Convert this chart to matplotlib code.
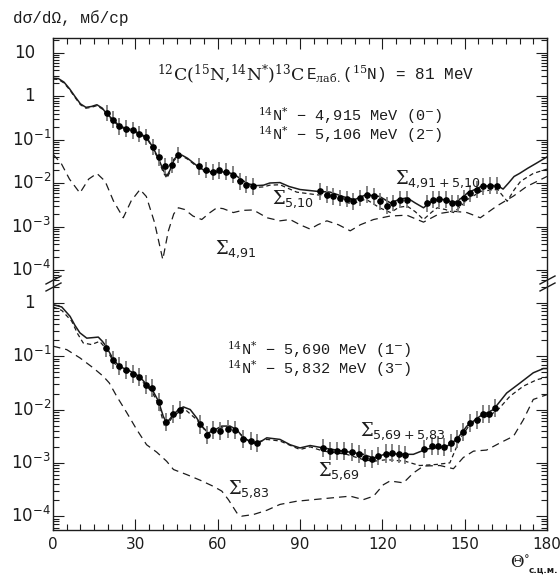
import numpy as np
import matplotlib
matplotlib.use("Agg")
import matplotlib.pyplot as plt
from matplotlib.ticker import LogLocator, MultipleLocator, NullFormatter
from matplotlib.lines import Line2D
from matplotlib.transforms import blended_transform_factory

plt.rcParams["mathtext.fontset"] = "dejavuserif"
plt.rcParams["font.family"] = ["DejaVu Sans"]

# values in decades (log10 of mb/sr)

# upper panel: 14N* 4.915 + 5.106 MeV
UP_SUM_THETA = [0, 2, 4, 6, 8, 10, 12, 14, 16, 18, 19.3, 22, 24.4, 27.5, 29.3, 31.7,
                34, 36.3, 38.4, 40.2, 41.5, 42.6, 44, 45.5, 47, 49, 52.4, 54.8, 57.2,
                61, 64, 66.3, 68.8, 71.2, 74.2, 76.7, 79, 82.7, 86, 90, 96, 101, 107,
                110, 114, 119, 123, 126, 129, 132, 135, 138, 140, 143, 146, 149, 151,
                156, 160, 162, 164, 166, 168, 170, 173, 176, 180]
UP_SUM_LG = [0.42, 0.41, 0.33, 0.18, 0.0, -0.17, -0.25, -0.23, -0.19, -0.27, -0.38,
             -0.54, -0.69, -0.74, -0.78, -0.86, -0.93, -1.16, -1.42, -1.70, -1.83,
             -1.70, -1.45, -1.36, -1.35, -1.42, -1.59, -1.69, -1.73, -1.73, -1.75,
             -1.80, -1.92, -2.01, -2.05, -2.04, -1.99, -1.98, -2.07, -2.14, -2.18,
             -2.20, -2.33, -2.37, -2.26, -2.30, -2.45, -2.37, -2.33, -2.45, -2.56,
             -2.41, -2.37, -2.37, -2.45, -2.33, -2.22, -2.07, -2.05, -2.05, -2.13,
             -1.99, -1.84, -1.77, -1.65, -1.54, -1.39]

UP_510_THETA = [0, 2, 4, 6, 8, 10, 12, 14, 16, 18, 19.3, 22, 24.4, 27.5, 29.3, 31.7,
                34, 36.3, 38.4, 40.2, 41.5, 42.6, 44, 45.5, 47, 49, 52.4, 54.8, 57.2,
                61, 64, 66.3, 68.8, 71.2, 74.2, 76.7, 79, 82.7, 88.8, 96, 101, 107,
                110, 114, 119, 123, 126, 129, 132, 135, 138, 140, 143, 146, 149, 151,
                156, 160, 162, 165.5, 168, 170.4, 175, 180]
UP_510_LG = [0.40, 0.39, 0.31, 0.16, -0.02, -0.19, -0.27, -0.25, -0.21, -0.29, -0.40,
             -0.56, -0.71, -0.76, -0.80, -0.88, -0.95, -1.18, -1.45, -1.75, -1.88,
             -1.74, -1.48, -1.38, -1.37, -1.44, -1.61, -1.71, -1.76, -1.76, -1.78,
             -1.83, -1.95, -2.05, -2.09, -2.08, -2.04, -2.03, -2.20, -2.26, -2.30,
             -2.45, -2.45, -2.36, -2.56, -2.67, -2.55, -2.52, -2.65, -2.83, -2.66,
             -2.56, -2.60, -2.67, -2.50, -2.37, -2.18, -2.15, -2.14, -2.41, -2.15,
             -1.95, -1.77, -1.67]

UP_491_THETA = [0, 3, 6, 9.8, 13, 16, 19, 22, 25.6, 28.5, 31.7, 34, 37, 40, 42, 44,
                45.7, 48, 51, 54.2, 57, 59.7, 62, 65.7, 69, 73, 78, 82.7, 86.4, 90,
                93.7, 96.5, 99.8, 104, 108.3, 112, 116.8, 122.8, 128.9, 135, 141, 146,
                150.8, 155.7, 161.7, 167.8, 172.6, 180]
UP_491_LG = [-1.33, -1.54, -1.90, -2.22, -1.90, -1.77, -1.95, -2.40, -2.79, -2.40,
             -2.14, -2.30, -2.90, -3.75, -3.10, -2.70, -2.56, -2.60, -2.75, -2.83,
             -2.68, -2.56, -2.58, -2.67, -2.62, -2.61, -2.79, -2.86, -2.83, -2.95,
             -3.05, -2.95, -2.86, -2.95, -3.09, -2.95, -2.83, -2.75, -2.73, -2.89,
             -2.69, -2.64, -2.67, -2.79, -2.52, -2.29, -2.07, -1.84]

UP_DATA_THETA = [19.5, 21.7, 24.1, 26.5, 29.0, 31.5, 34.0, 36.3, 38.5, 40.9, 43.2,
                 45.7, 53.3, 55.7, 58.2, 60.6, 63.1, 65.5, 68.0, 70.4, 72.9,
                 97.3, 99.7, 102.1, 104.6, 107.0, 109.4, 111.9, 114.5, 117.1, 119.2,
                 121.6, 124.0, 126.5, 128.9, 136.2, 138.6, 140.8, 143.1, 145.3, 147.7,
                 149.9, 151.9, 154.6, 156.8, 159.2, 161.6]
UP_DATA_LG = [-0.38, -0.53, -0.69, -0.74, -0.78, -0.86, -0.93, -1.16, -1.40, -1.60,
              -1.58, -1.35, -1.61, -1.69, -1.74, -1.70, -1.73, -1.80, -1.95, -2.03,
              -2.07,
              -2.18, -2.26, -2.30, -2.33, -2.36, -2.41, -2.33, -2.26, -2.30, -2.41,
              -2.51, -2.45, -2.37, -2.37, -2.46, -2.37, -2.36, -2.37, -2.46, -2.46,
              -2.33, -2.23, -2.14, -2.07, -2.05, -2.05]
UP_ERR_DEC = 0.19

# lower panel: 14N* 5.690 + 5.832 MeV
LO_SUM_THETA = [0, 3.2, 6.2, 8, 9.8, 12.3, 14.5, 16.5, 18, 19.3, 22, 24.2, 26.9, 29.3,
                31.7, 34.1, 36.2, 38.4, 40.2, 41.4, 43.3, 45.7, 47.5, 50, 52.4, 54.2,
                56.6, 59, 61.5, 64.5, 67, 69.4, 72.4, 74.8, 77.9, 82.7, 86.4, 90,
                93.7, 98.5, 105.8, 113.1, 116.8, 121.6, 128.3, 131.3, 136.2, 143.5,
                147.1, 150.8, 155.6, 160.5, 165.3, 170.2, 175, 178.7, 180]
LO_SUM_LG = [-0.03, -0.075, -0.25, -0.42, -0.56, -0.66, -0.65, -0.64, -0.72, -0.81,
             -1.06, -1.19, -1.25, -1.31, -1.39, -1.53, -1.63, -1.84, -2.13, -2.25,
             -2.13, -2.0, -1.95, -2.0, -2.16, -2.31, -2.44, -2.38, -2.31, -2.31,
             -2.38, -2.53, -2.61, -2.63, -2.53, -2.56, -2.66, -2.72, -2.675, -2.72,
             -2.78, -2.84, -2.91, -2.825, -2.84, -2.84, -2.74, -2.69, -2.56, -2.31,
             -2.125, -2.0, -1.69, -1.5, -1.31, -1.23, -1.23]

LO_569_THETA = [0, 3.2, 6.8, 9, 11, 14, 17, 19.6, 22, 24.2, 26.9, 29.3, 31.7, 34.1,
                36.2, 38.4, 40.8, 43.3, 47.5, 52.4, 56.6, 61.5, 67, 72.4, 77.9, 82.7,
                90, 93.7, 98.5, 107, 113.1, 116.8, 121.6, 128.3, 133.6, 139.7, 144.6,
                148.3, 151.9, 156.8, 161.7, 166.5, 171.4, 176.3, 180]
LO_569_LG = [-0.075, -0.14, -0.34, -0.58, -0.75, -0.78, -0.72, -0.875, -1.10, -1.25,
             -1.31, -1.36, -1.43, -1.56, -1.68, -1.90, -2.34, -2.16, -1.97, -2.19,
             -2.47, -2.34, -2.41, -2.64, -2.56, -2.59, -2.75, -2.70, -2.78, -2.84,
             -2.94, -2.97, -2.94, -2.97, -3.05, -3.03, -3.0, -2.55, -2.28, -2.16,
             -2.03, -1.75, -1.56, -1.44, -1.39]

LO_583_THETA = [0, 5, 9.8, 14.7, 18.3, 20.5, 23.2, 26.9, 30.5, 34.1, 37.8, 41.4, 43.9,
                48.7, 53.6, 58.4, 61.5, 63.9, 67, 68.8, 73, 77.9, 82.7, 88.8, 94.9,
                101, 108.3, 113.1, 116.8, 120.4, 122.8, 127.7, 131.3, 135, 141, 145.9,
                149.5, 153.2, 158, 162.9, 167.8, 171.4, 175, 180]
LO_583_LG = [-0.81, -0.875, -1.03, -1.22, -1.375, -1.5, -1.75, -2.06, -2.375, -2.66,
             -2.8, -2.97, -3.125, -3.22, -3.325, -3.44, -3.53, -3.69, -3.94, -4.0,
             -3.97, -3.89, -3.78, -3.72, -3.69, -3.66, -3.625, -3.69, -3.625, -3.41,
             -3.34, -3.375, -3.19, -3.06, -3.05, -3.11, -2.9, -2.78, -2.76, -2.625,
             -2.5, -2.19, -1.81, -1.72]

LO_DATA_THETA = [19.3, 21.8, 24.2, 26.6, 29.0, 31.5, 33.9, 36.2, 38.6, 41.2, 43.6,
                 46.3, 53.6, 56.0, 58.4, 60.9, 63.9, 66.4, 69.4, 72.1, 74.5,
                 98.5, 101.0, 103.6, 106.2, 108.8, 111.5, 113.7, 116.1, 118.6, 121.4,
                 123.6, 126.1, 128.3, 135.3, 138.0, 140.2, 142.5, 144.9, 147.1, 149.5,
                 152.0, 154.4, 156.6, 159.0, 161.2]
LO_DATA_LG = [-0.84, -1.075, -1.175, -1.25, -1.325, -1.39, -1.53, -1.59, -1.86, -2.24,
              -2.075, -2.0, -2.28, -2.47, -2.39, -2.41, -2.36, -2.39, -2.56, -2.59,
              -2.63,
              -2.72, -2.78, -2.78, -2.77, -2.80, -2.84, -2.91, -2.925, -2.875, -2.825,
              -2.81, -2.84, -2.85, -2.74, -2.69, -2.675, -2.70, -2.625, -2.55, -2.425,
              -2.26, -2.2, -2.09, -2.09, -1.97]
LO_ERR_DEC = 0.17

UP_DECADES = [1, 0, -1, -2, -3, -4]
LO_DECADES = [0, -1, -2, -3, -4]
X_TICKS = [0, 30, 60, 90, 120, 150, 180]

W, H = 560, 576
INK = "#1c1c1c"


def fx(px):
    return px / W


def fy(py):
    return 1 - py / H


def dec_label(e):
    if e == 1:
        return "10"
    if e == 0:
        return "1"
    return r"$\mathsf{10^{%d}}$" % e


def style_axis(ax, decades):
    ax.set_yscale("log")
    ax.set_xlim(0, 180)
    ax.xaxis.set_major_locator(MultipleLocator(30))
    ax.xaxis.set_minor_locator(MultipleLocator(5))
    ax.yaxis.set_major_locator(LogLocator(base=10, numticks=20))
    ax.yaxis.set_minor_locator(LogLocator(base=10, subs=np.arange(2, 10), numticks=20))
    ax.yaxis.set_major_formatter(NullFormatter())
    ax.yaxis.set_minor_formatter(NullFormatter())
    ax.tick_params(which="both", direction="in", colors=INK, width=0.8)
    ax.tick_params(which="major", length=8)
    ax.tick_params(which="minor", length=4.5)
    for s in ax.spines.values():
        s.set_color(INK)
        s.set_linewidth(1.0)
    tr = blended_transform_factory(ax.figure.transFigure, ax.transData)
    for e in decades:
        x_right = 35 if e in (0, 1) else 51
        ax.text(fx(x_right), 10.0 ** e, dec_label(e), transform=tr, ha="right",
                va="center", fontsize=12, color=INK)


def draw_panel(ax, curves, d_theta, d_lg, err_dec):
    for th, lg, dashes, lw in curves:
        line, = ax.plot(th, 10.0 ** np.array(lg), color=INK, lw=lw)
        if dashes:
            line.set_dashes(dashes)
    v = 10.0 ** np.array(d_lg)
    yerr = [v - v / 10 ** err_dec, v * 10 ** err_dec - v]
    ax.errorbar(d_theta, v, yerr=yerr, xerr=0.8, fmt="o", ms=3.8, mfc="black",
                mec="black", ecolor="#7a7a7a", elinewidth=1.3, capsize=0, zorder=3)


fig = plt.figure(figsize=(W / 100, H / 100), dpi=100)
fig.patch.set_facecolor("white")

ax_up = fig.add_axes([fx(53), fy(283), fx(547) - fx(53), fy(38) - fy(283)])
ax_lo = fig.add_axes([fx(53), fy(530), fx(547) - fx(53), fy(283) - fy(530)])

draw_panel(ax_up,
           [(UP_SUM_THETA, UP_SUM_LG, None, 1.1),
            (UP_510_THETA, UP_510_LG, (3.5, 2.5), 0.9),
            (UP_491_THETA, UP_491_LG, (6, 4), 0.9)],
           UP_DATA_THETA, UP_DATA_LG, UP_ERR_DEC)
draw_panel(ax_lo,
           [(LO_SUM_THETA, LO_SUM_LG, None, 1.1),
            (LO_569_THETA, LO_569_LG, (3.5, 2.5), 0.9),
            (LO_583_THETA, LO_583_LG, (6, 4), 0.9)],
           LO_DATA_THETA, LO_DATA_LG, LO_ERR_DEC)

style_axis(ax_up, UP_DECADES)
style_axis(ax_lo, LO_DECADES)
ax_up.set_ylim(10 ** -4.29, 10 ** 1.345)
ax_lo.set_ylim(10 ** -4.26, 10 ** 0.375)

ax_up.spines["bottom"].set_visible(False)
ax_up.tick_params(axis="x", which="both", bottom=False, top=True, labelbottom=False)
ax_lo.spines["top"].set_visible(False)
ax_lo.tick_params(axis="x", which="both", bottom=True, top=False)
ax_lo.set_xticks(X_TICKS)
ax_lo.set_xticklabels([str(t) for t in X_TICKS], fontsize=11, color=INK)
ax_lo.tick_params(axis="x", which="major", pad=5)
for ax in (ax_up, ax_lo):
    ax.tick_params(axis="y", which="both", left=True, right=True)

# break marks
for x0 in (46, 540):
    for dy in (0, 7):
        fig.add_artist(Line2D([fx(x0), fx(x0 + 15)], [fy(284 + dy), fy(276 + dy)],
                              transform=fig.transFigure, color=INK, lw=1.0))

# texts
fig.text(fx(13), fy(18), "dσ/dΩ, мб/ср", family="Liberation Mono", fontsize=11.5,
         ha="left", va="center", color=INK)
fig.text(fx(157), fy(74), r"$^{12}$C($^{15}$N,$^{14}$N$^{*}$)$^{13}$C",
         family="DejaVu Serif", fontsize=12.5, ha="left", va="center", color=INK)
fig.text(fx(306), fy(74), r"E$_{\mathrm{лаб.}}$($^{15}$N) = 81 MeV",
         family="Liberation Mono", fontsize=11.5, ha="left", va="center", color=INK)

state_lines = [
    (258, 116, r"$^{14}$N$^{*}$ − 4,915 MeV (0$^{-}$)"),
    (258, 135, r"$^{14}$N$^{*}$ − 5,106 MeV (2$^{-}$)"),
    (227, 350, r"$^{14}$N$^{*}$ − 5,690 MeV (1$^{-}$)"),
    (227, 369, r"$^{14}$N$^{*}$ − 5,832 MeV (3$^{-}$)"),
]
for px, py, s in state_lines:
    fig.text(fx(px), fy(py), s, family="Liberation Mono", fontsize=11,
             ha="left", va="center", color=INK)

sig_labels = [
    (395, 179, r"$\Sigma_{\mathsf{4{,}91+5{,}10}}$"),
    (272, 199, r"$\Sigma_{\mathsf{5{,}10}}$"),
    (215, 249, r"$\Sigma_{\mathsf{4{,}91}}$"),
    (360, 431, r"$\Sigma_{\mathsf{5{,}69+5{,}83}}$"),
    (318, 471, r"$\Sigma_{\mathsf{5{,}69}}$"),
    (228, 489, r"$\Sigma_{\mathsf{5{,}83}}$"),
]
for px, py, s in sig_labels:
    fig.text(fx(px), fy(py), s, fontsize=13, ha="left", va="center", color=INK)

fig.text(fx(510), fy(563), r"$\Theta^{\circ}$", fontsize=12,
         ha="left", va="center", color=INK)
fig.text(fx(529), fy(570), "с.ц.м.", fontsize=6.5, fontweight="bold",
         ha="left", va="center", color=INK)

fig.savefig("out.png", dpi=100, facecolor="white")
